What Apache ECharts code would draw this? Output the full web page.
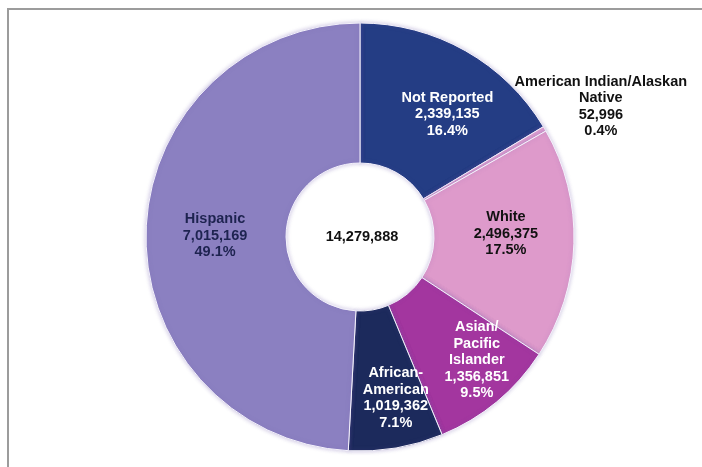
<!DOCTYPE html>
<html>
<head>
<meta charset="utf-8">
<style>
  html, body { margin: 0; padding: 0; background: #fff; }
  #chart { width: 702px; height: 467px; }
</style>
<script src="https://cdn.jsdelivr.net/npm/echarts@6/dist/echarts.min.js"></script>
</head>
<body>
<div id="chart"></div>
<script>
// ---- data ----
const categories = ['Not Reported', 'American Indian/Alaskan\nNative', 'White', 'Asian/\nPacific\nIslander', 'African-\nAmerican', 'Hispanic'];
const values = [2339135, 52996, 2496375, 1356851, 1019362, 7015169];
const percentLabels = ['16.4%', '0.4%', '17.5%', '9.5%', '7.1%', '49.1%'];
const totalLabel = '14,279,888';

// ---- styles ----
const colors = ['#243D84', '#E4A3D3', '#DE9ACB', '#A3369F', '#1C2A5C', '#8B80C1'];
const textColors = ['#ffffff', '#111111', '#111111', '#ffffff', '#ffffff', '#1E2350'];
const offsets = [[15, 5], [114, -56], [-1, -8], [23, 10], [11, 16], [2, 3]];

const fmt = v => v.toLocaleString('en-US');

const data = categories.map((c, i) => ({
  name: c,
  value: values[i],
  itemStyle: { color: colors[i] },
  label: {
    color: textColors[i],
    offset: offsets[i],
    formatter: c + '\n' + fmt(values[i]) + '\n' + percentLabels[i]
  }
}));

const chart = echarts.init(document.getElementById('chart'), null, { renderer: 'canvas' });
chart.setOption({
  animation: false,
  graphic: [
    {
      type: 'rect',
      shape: { x: 8, y: 9, width: 760, height: 520 },
      style: { fill: 'none', stroke: '#9c9c9c', lineWidth: 2 },
      silent: true,
      z: 0
    },
    {
      type: 'text',
      x: 362, y: 237,
      style: {
        text: totalLabel,
        fill: '#111',
        font: 'bold 14.5px "Liberation Sans", Arial, sans-serif',
        align: 'center',
        verticalAlign: 'middle'
      },
      z: 10
    }
  ],
  series: [{
    type: 'pie',
    center: [360, 237],
    radius: [74, 214],
    startAngle: 90,
    clockwise: true,
    avoidLabelOverlap: false,
    minShowLabelAngle: 0,
    itemStyle: {
      borderColor: '#f4f2fb',
      borderWidth: 1,
      shadowBlur: 4,
      shadowColor: 'rgba(110,90,170,0.35)'
    },
    label: {
      show: true,
      position: 'inside',
      fontFamily: '"Liberation Sans", Arial, sans-serif',
      fontWeight: 'bold',
      fontSize: 14.5,
      lineHeight: 16.5,
      align: 'center'
    },
    labelLine: { show: false },
    emphasis: { disabled: true },
    data: data
  }]
});
</script>
</body>
</html>
